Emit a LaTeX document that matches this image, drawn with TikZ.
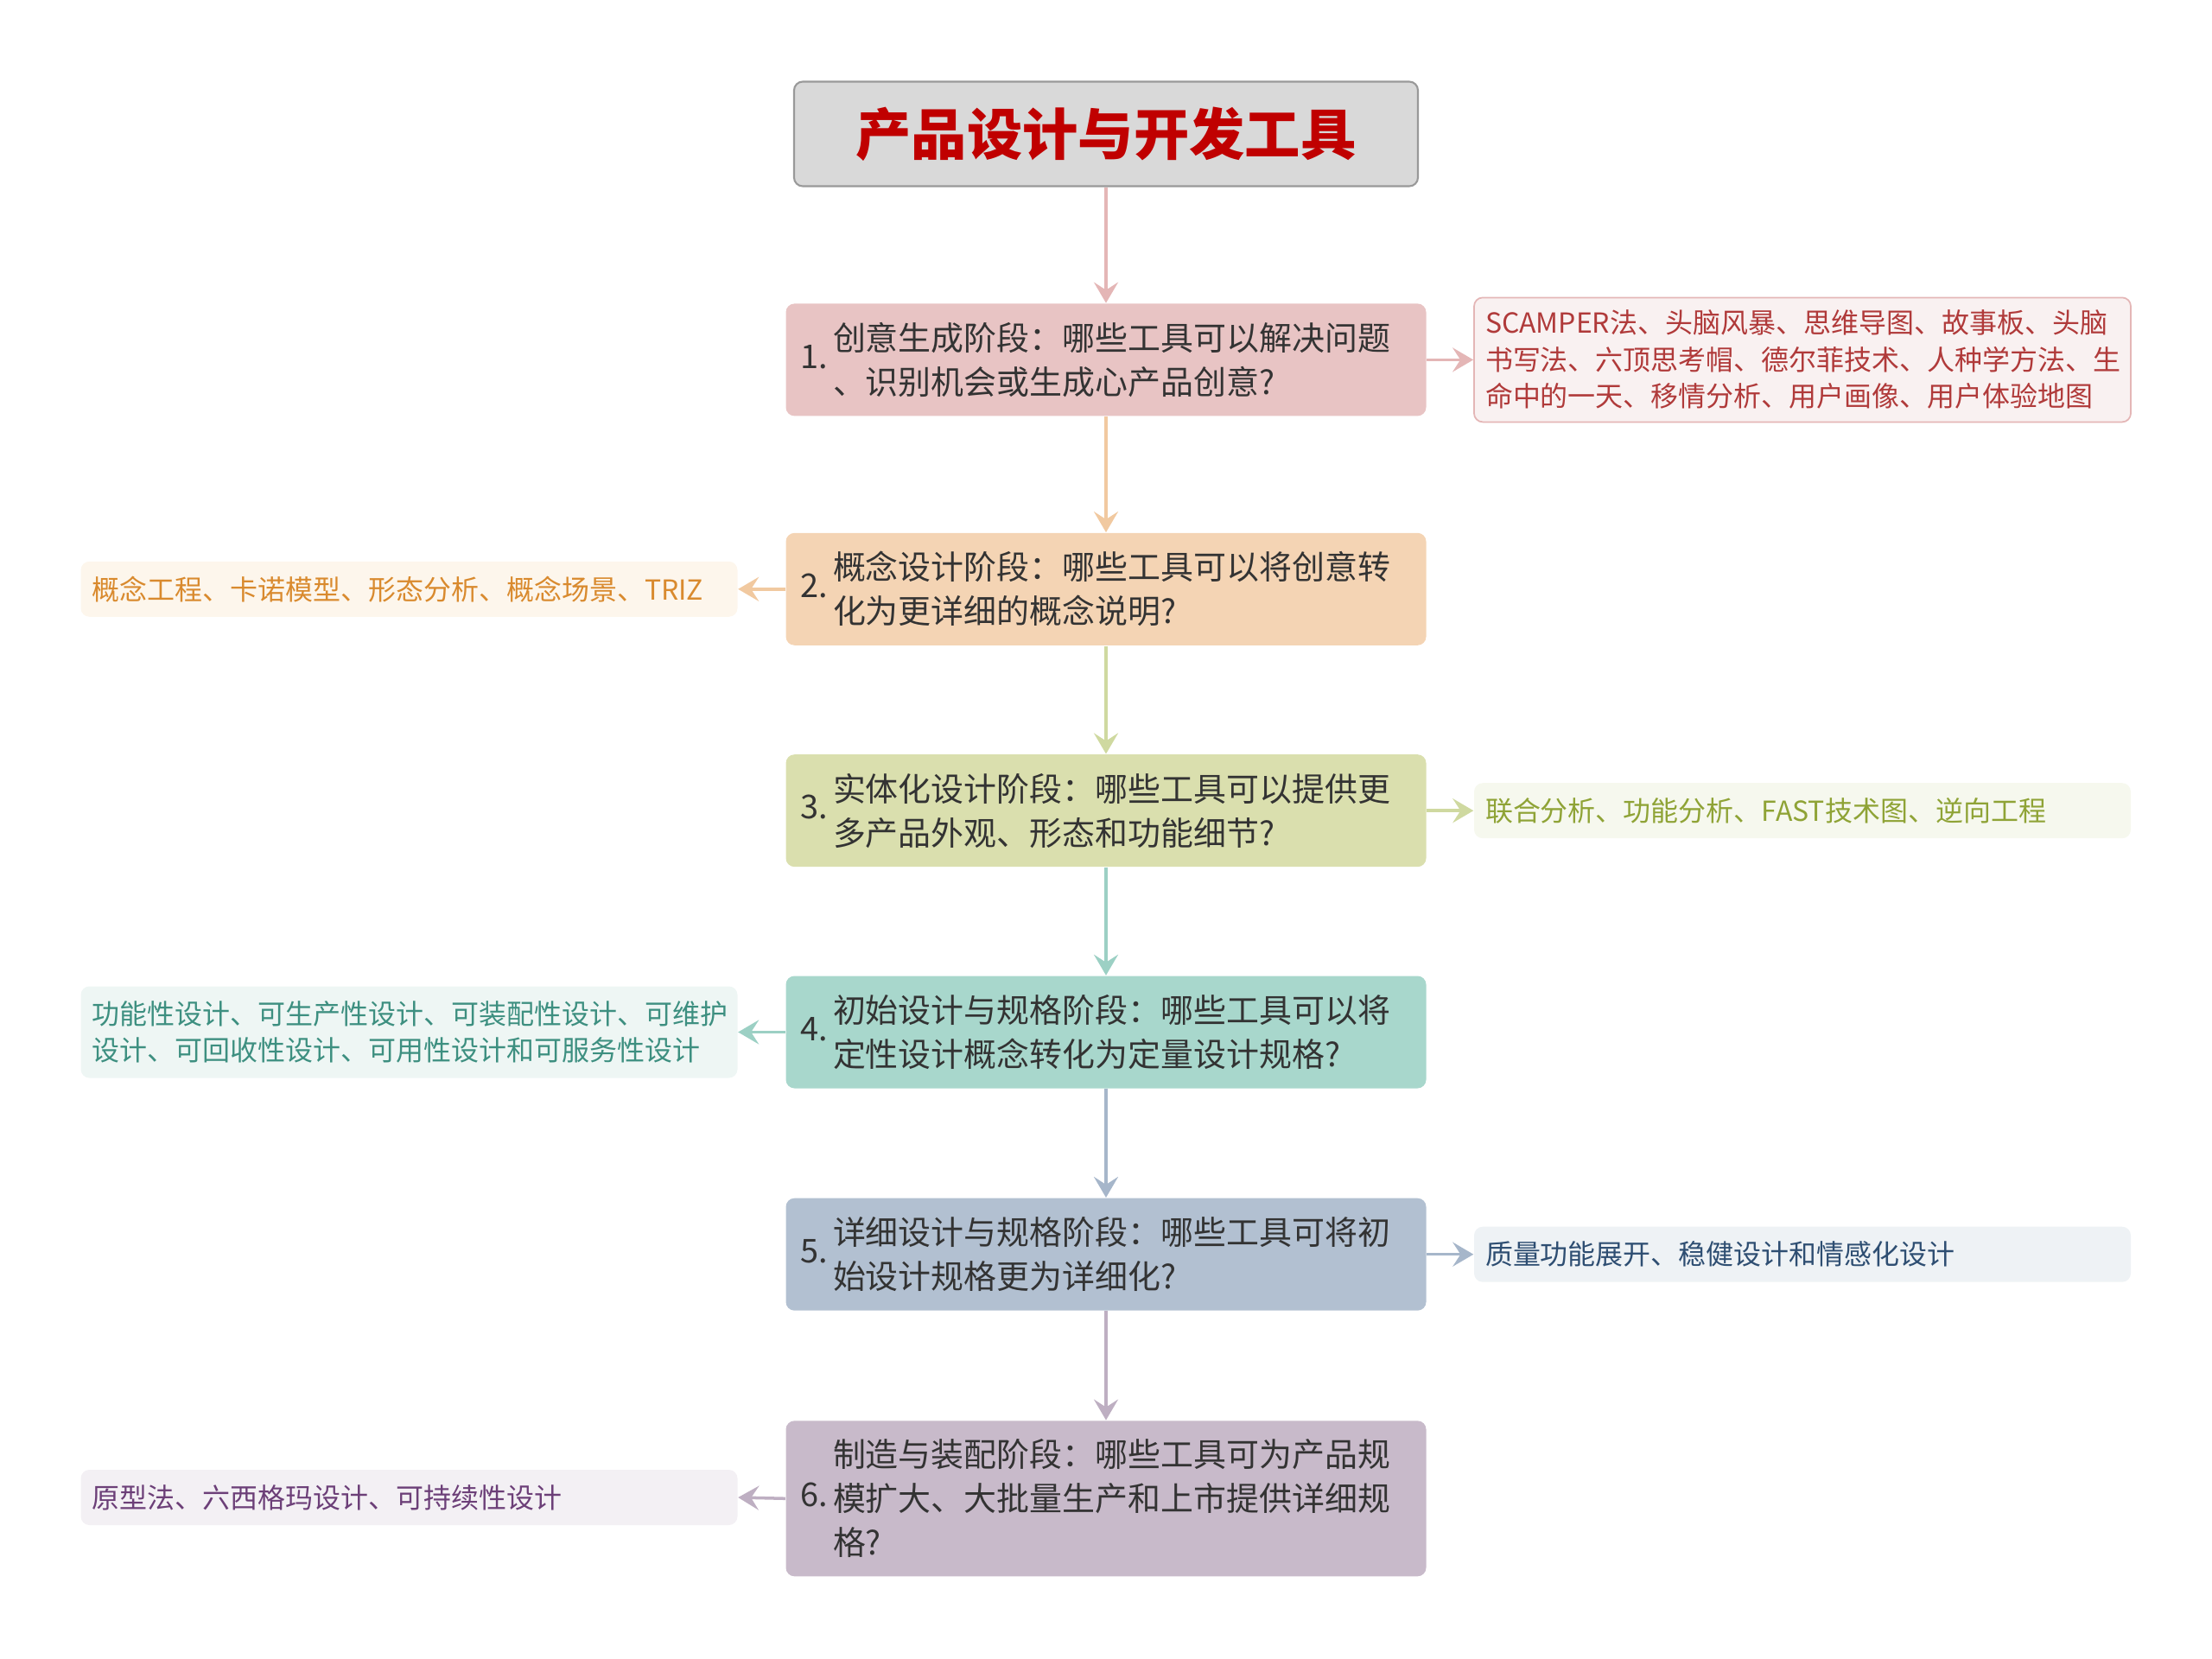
\documentclass[tikz,border=0pt]{standalone}
\usepackage{fontspec}
\setmainfont{Noto Sans CJK SC}
\usetikzlibrary{arrows.meta,positioning}

\definecolor{titlered}{HTML}{C00000}
\definecolor{stagefg}{HTML}{333333}
\definecolor{fillA}{HTML}{E8C4C4}\definecolor{lineA}{HTML}{E4B6B6}
\definecolor{fillB}{HTML}{F4D4B4}\definecolor{lineB}{HTML}{F1C9A0}
\definecolor{fillC}{HTML}{DADFAE}\definecolor{lineC}{HTML}{CFD9A0}
\definecolor{fillD}{HTML}{A8D7CC}\definecolor{lineD}{HTML}{9CD0C4}
\definecolor{fillE}{HTML}{B2C0D1}\definecolor{lineE}{HTML}{A6B6CA}
\definecolor{fillF}{HTML}{C8BACA}\definecolor{lineF}{HTML}{BEAFC2}
\definecolor{toolA}{HTML}{B03A3A}\definecolor{paleA}{HTML}{F9F1F1}
\definecolor{toolB}{HTML}{D98A2E}\definecolor{paleB}{HTML}{FDF6EC}
\definecolor{toolC}{HTML}{8FA336}\definecolor{paleC}{HTML}{F6F8EE}
\definecolor{toolD}{HTML}{3D8F80}\definecolor{paleD}{HTML}{EEF6F4}
\definecolor{toolE}{HTML}{2E4E72}\definecolor{paleE}{HTML}{EEF2F5}
\definecolor{toolF}{HTML}{6C3F78}\definecolor{paleF}{HTML}{F3F0F4}

\newcommand{\stagetext}[2]{\makebox[0.38cm][l]{#1}\parbox[c]{6.7cm}{\raggedright #2}}

\begin{document}
\begin{tikzpicture}[
  titlebox/.style = {draw=gray!80, fill=gray!30, rounded corners=1mm, line width=0.6pt,
    minimum width=7.22cm, minimum height=1.21cm, text=titlered,
    font=\fontsize{18.3pt}{22pt}\selectfont\bfseries},
  stage/.style = {rounded corners=1mm, minimum width=7.41cm, minimum height=1.3cm,
    inner xsep=0pt, text=stagefg, font=\fontsize{10.8pt}{14.5pt}\selectfont},
  tools/.style = {rounded corners=1mm, minimum width=7.6cm, minimum height=0.64cm,
    text width=7.34cm, inner xsep=0.13cm, align=left,
    font=\fontsize{9.1pt}{12.1pt}\selectfont},
  link/.style = {line width=1pt, -{Stealth[length=2.4mm, width=2.8mm, inset=0.9mm]}}
]
\useasboundingbox (0,0) rectangle (25.6,-19.2);

\node[titlebox] (title) at (12.8,-1.55) {产品设计与开发工具};

% stages
\node[stage, fill=fillA] (s1) at (12.8,-4.164) {\stagetext{1.}{创意生成阶段：哪些工具可以解决问题\\、识别机会或生成心产品创意?}};
\node[stage, fill=fillB] (s2) at (12.8,-6.818) {\stagetext{2.}{概念设计阶段：哪些工具可以将创意转\\化为更详细的概念说明?}};
\node[stage, fill=fillC] (s3) at (12.8,-9.382) {\stagetext{3.}{实体化设计阶段：哪些工具可以提供更\\多产品外观、形态和功能细节?}};
\node[stage, fill=fillD] (s4) at (12.8,-11.945) {\stagetext{4.}{初始设计与规格阶段：哪些工具可以将\\定性设计概念转化为定量设计规格?}};
\node[stage, fill=fillE] (s5) at (12.8,-14.517) {\stagetext{5.}{详细设计与规格阶段：哪些工具可将初\\始设计规格更为详细化?}};
\node[stage, fill=fillF, minimum height=1.8cm] (s6) at (12.8,-17.343) {\stagetext{6.}{制造与装配阶段：哪些工具可为产品规\\模扩大、大批量生产和上市提供详细规\\格?}};

% tools
\node[tools, draw=lineA, line width=0.5pt, fill=paleA, text=toolA, minimum height=1.44cm] (t1) at (20.86,-4.164) {SCAMPER法、头脑风暴、思维导图、故事板、头脑\\书写法、六顶思考帽、德尔菲技术、人种学方法、生\\命中的一天、移情分析、用户画像、用户体验地图};
\node[tools, fill=paleB, text=toolB] (t2) at (4.735,-6.818) {概念工程、卡诺模型、形态分析、概念场景、TRIZ};
\node[tools, fill=paleC, text=toolC] (t3) at (20.86,-9.382) {联合分析、功能分析、FAST技术图、逆向工程};
\node[tools, fill=paleD, text=toolD, minimum height=1.06cm] (t4) at (4.735,-11.945) {功能性设计、可生产性设计、可装配性设计、可维护\\设计、可回收性设计、可用性设计和可服务性设计};
\node[tools, fill=paleE, text=toolE] (t5) at (20.86,-14.517) {质量功能展开、稳健设计和情感化设计};
\node[tools, fill=paleF, text=toolF] (t6) at (4.735,-17.33) {原型法、六西格玛设计、可持续性设计};

% main chain
\draw[link, lineA] (title) -- (s1);
\draw[link, lineB] (s1) -- (s2);
\draw[link, lineC] (s2) -- (s3);
\draw[link, lineD] (s3) -- (s4);
\draw[link, lineE] (s4) -- (s5);
\draw[link, lineF] (s5) -- (s6);

% side links
\draw[link, lineA] (s1.east) -- (t1.west);
\draw[link, lineB] (s2.west) -- (t2.east);
\draw[link, lineC] (s3.east) -- (t3.west);
\draw[link, lineD] (s4.west) -- (t4.east);
\draw[link, lineE] (s5.east) -- (t5.west);
\draw[link, lineF] (s6.west) -- (t6.east);

\end{tikzpicture}
\end{document}
